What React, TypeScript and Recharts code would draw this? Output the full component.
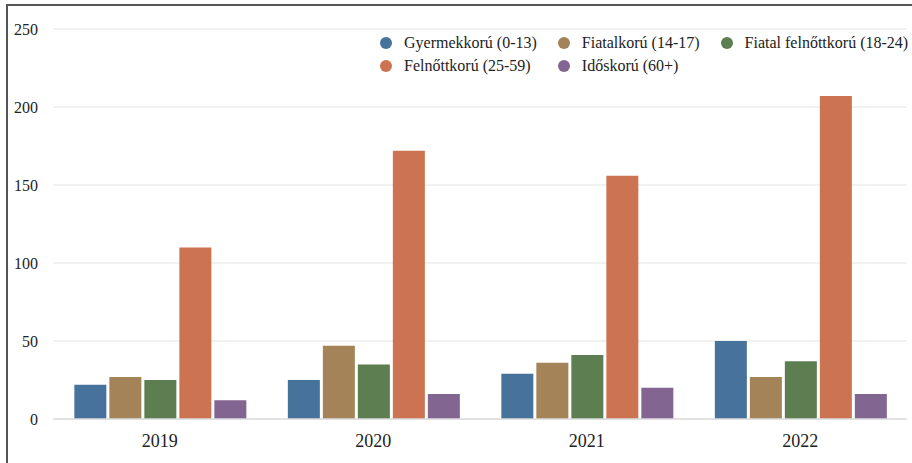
import { Bar, BarChart, CartesianGrid, XAxis, YAxis } from "recharts"

const years = ["2019", "2020", "2021", "2022"]

const children = [22, 25, 29, 50]
const juveniles = [27, 47, 36, 27]
const youngAdults = [25, 35, 41, 37]
const adults = [110, 172, 156, 207]
const elderly = [12, 16, 20, 16]

const yTicks = [0, 50, 100, 150, 200, 250]

const series = [
    { key: "children", name: "Gyermekkorú (0-13)", color: "#46729b", values: children },
    { key: "juveniles", name: "Fiatalkorú (14-17)", color: "#a38357", values: juveniles },
    { key: "youngAdults", name: "Fiatal felnőttkorú (18-24)", color: "#5c7e50", values: youngAdults },
    { key: "adults", name: "Felnőttkorú (25-59)", color: "#cc7352", values: adults },
    { key: "elderly", name: "Időskorú (60+)", color: "#836592", values: elderly },
]

const data = years.map((year, i) => {
    const row: Record<string, string | number> = { year, edge: i }
    series.forEach((s) => { row[s.key] = s.values[i] })
    return row
})

// band edges for the little tick marks between the year groups
const edgeTicks = years.map((_, i) => i).concat(years.length)

function LegendBox() {
    return (
        <div style={{
            position: "absolute", left: 380, top: 32, display: "grid",
            gridTemplateColumns: "auto auto auto", columnGap: 21, rowGap: 1,
            fontSize: 16, lineHeight: "22px", color: "#222",
        }}>
            {series.map((s) => (
                <div key={s.key} style={{ display: "flex", alignItems: "center", whiteSpace: "nowrap" }}>
                    <span style={{ width: 12, height: 12, borderRadius: 6, background: s.color, marginRight: 12, display: "inline-block" }} />
                    <span>{s.name}</span>
                </div>
            ))}
        </div>
    )
}

export default function App() {
    return (
        <div style={{
            position: "fixed", left: 0, top: 0, width: 912, height: 463, background: "#fff",
            overflow: "hidden", fontFamily: "Liberation Serif, Times New Roman, serif",
        }}>
            <div style={{ position: "absolute", left: 6, top: 4, width: 1000, height: 1000, border: "2px solid #555" }} />
            <div style={{ position: "absolute", left: 0, top: 0 }}>
                <BarChart
                    width={912}
                    height={463}
                    data={data}
                    margin={{ top: 29, right: 5, left: 8, bottom: 14 }}
                    barCategoryGap="10%"
                    barGap={3}
                >
                    <CartesianGrid vertical={false} stroke="#e3e3e3" strokeWidth={1.2} />
                    <YAxis
                        domain={[0, 250]}
                        ticks={yTicks}
                        width={45}
                        axisLine={false}
                        tickLine={false}
                        tickMargin={9}
                        tick={{ fill: "#222", fontSize: 16 }}
                    />
                    <XAxis
                        xAxisId="edge"
                        dataKey="edge"
                        type="number"
                        domain={[0, years.length]}
                        ticks={edgeTicks}
                        height={0}
                        mirror
                        tickSize={10}
                        axisLine={false}
                        tick={false}
                        tickLine={{ stroke: "#ddd", strokeWidth: 1.5 }}
                    />
                    <XAxis
                        dataKey="year"
                        height={30}
                        axisLine={{ stroke: "#ddd", strokeWidth: 1.5 }}
                        tickLine={false}
                        tickMargin={9}
                        tick={{ fill: "#222", fontSize: 18 }}
                    />
                    {series.map((s) => (
                        <Bar key={s.key} dataKey={s.key} name={s.name} fill={s.color} isAnimationActive={false} />
                    ))}
                </BarChart>
            </div>
            <LegendBox />
        </div>
    )
}
